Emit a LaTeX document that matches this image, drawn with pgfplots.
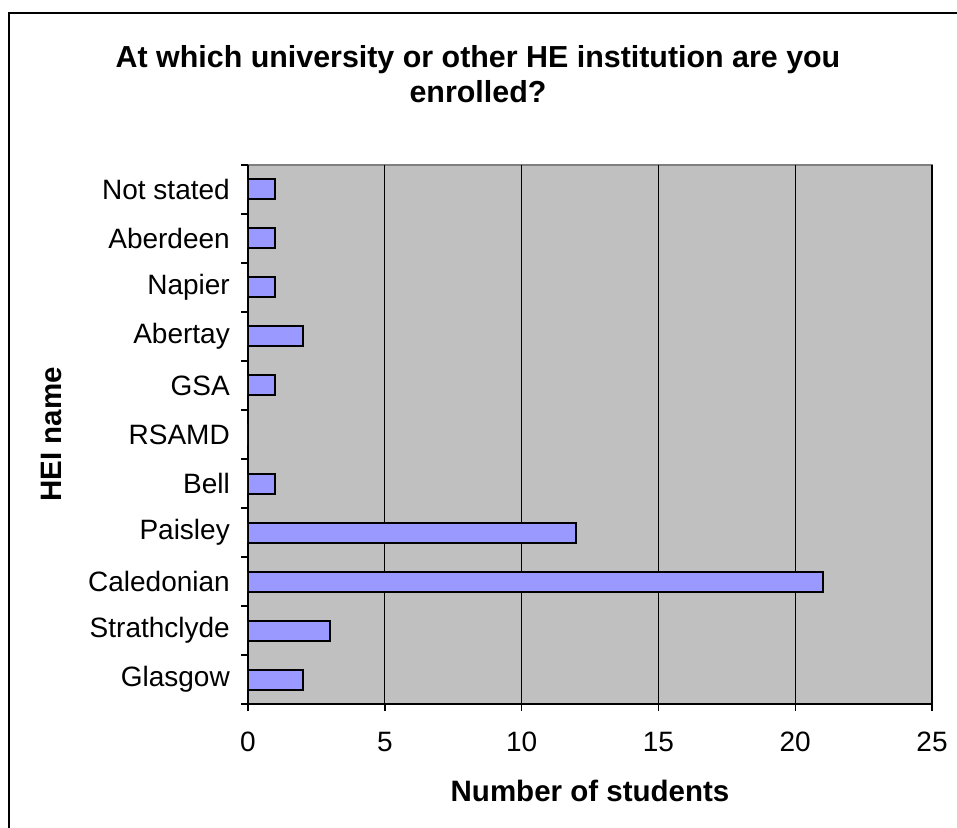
\documentclass[border=0pt]{standalone}
\usepackage{pgfplots}
\pgfplotsset{compat=1.18}
\usepackage{fontspec}
\setmainfont{Liberation Sans}
\definecolor{barblue}{HTML}{9999FF}
\definecolor{plotgray}{HTML}{C0C0C0}
\definecolor{edgegray}{HTML}{808080}

\pgfplotstableread{
idx value
0 2
1 3
2 21
3 12
4 1
5 0
6 1
7 2
8 1
9 1
10 1
}\hei

\begin{document}
\begin{tikzpicture}[x=1pt,y=1pt]
  % page area, measured from the lower left corner of the plot box
  \useasboundingbox (-248,-123) rectangle (709,704);
  \begin{scope}
  \clip (-248,-123) rectangle (709,704);
  % chart frame
  \draw[line width=2pt] (-239,691) rectangle (740,-150);
  \end{scope}
  % title
  \node[anchor=base,font=\fontsize{30.4}{36}\selectfont\bfseries] at (230,636) {At which university or other HE institution are you};
  \node[anchor=base,font=\fontsize{30.4}{36}\selectfont\bfseries] at (230,601) {enrolled?};
  \begin{axis}[
    scale only axis, width=684pt, height=539pt,
    xbar, bar width=20pt,
    xmin=0, xmax=25,
    ymin=-0.5, ymax=10.5,
    xtick={0,5,...,25},
    ytick={0,...,10},
    yticklabels={Glasgow,Strathclyde,Caledonian,Paisley,Bell,RSAMD,GSA,Abertay,Napier,Aberdeen,Not stated},
    minor ytick={-0.5,0.5,...,10.5},
    major y tick style={draw=none},
    minor y tick style={black, line width=1.4pt},
    minor tick length=7pt,
    major tick length=7pt,
    x tick style={black, line width=1.4pt},
    tick align=outside,
    axis x line*=bottom, axis y line*=left,
    axis line style={black, line width=2pt},
    axis background/.style={fill=plotgray, draw=edgegray, line width=2pt},
    xmajorgrids, major grid style={black, line width=1.2pt},
    /pgf/number format/assume math mode=true,
    ticklabel style={font=\fontsize{28}{32}\selectfont},
    xticklabel style={inner sep=0pt, yshift=-21pt},
    yticklabel style={inner sep=0pt, xshift=-11pt},
    xlabel={Number of students},
    ylabel={HEI name},
    xlabel style={font=\fontsize{29.5}{34}\selectfont\bfseries, at={(axis description cs:0.5,-0.1818)}, anchor=base},
    ylabel style={font=\fontsize{29.5}{34}\selectfont\bfseries, at={(axis description cs:-0.288,0.5)}, anchor=center, rotate=0},
  ]
    \addplot[fill=barblue, draw=black, line width=2pt] table[x=value, y=idx] {\hei};
  \end{axis}
\end{tikzpicture}
\end{document}
